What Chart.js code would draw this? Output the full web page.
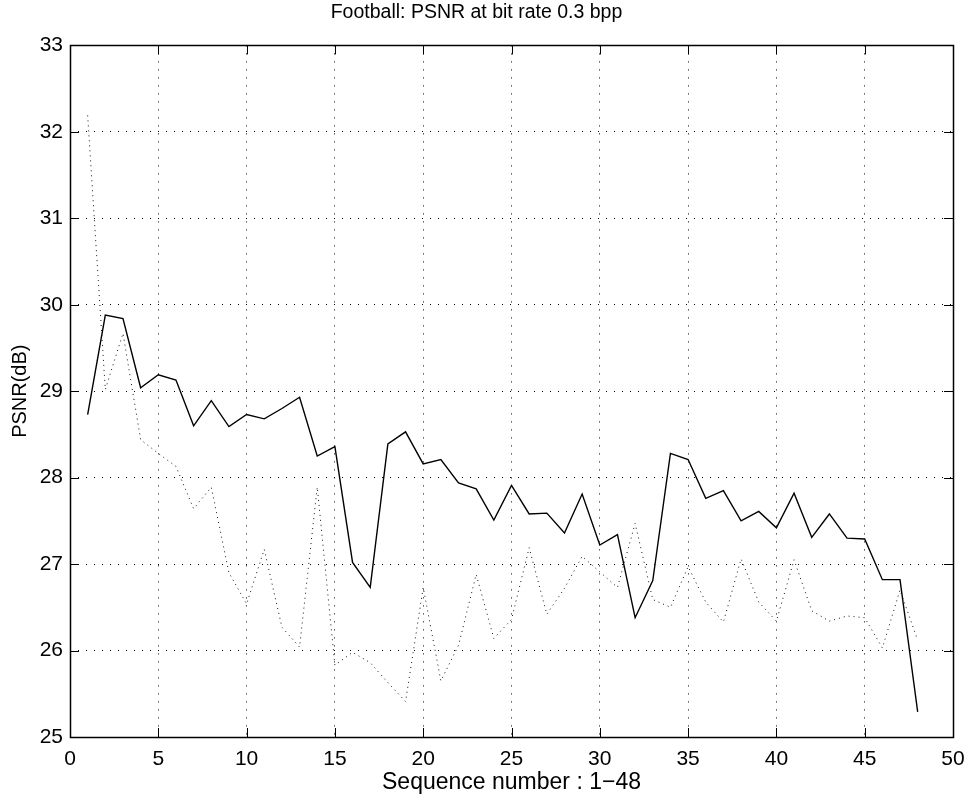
<!DOCTYPE html>
<html>
<head>
<meta charset="utf-8">
<script src="https://cdn.jsdelivr.net/npm/chart.js@4/dist/chart.umd.min.js"></script>
<style>
  html, body { margin: 0; padding: 0; background: #fff; }
  #wrap { width: 964px; height: 800px; }
</style>
</head>
<body>
<div id="wrap"><canvas id="psnr" width="964" height="800"></canvas></div>
<script>
// ── Data ───────────────────────────────────────────────────────
const seqNumbers = [1,2,3,4,5,6,7,8,9,10,11,12,13,14,15,16,17,18,19,20,21,22,23,24,
                    25,26,27,28,29,30,31,32,33,34,35,36,37,38,39,40,41,42,43,44,45,46,47,48];

const psnrSolid = [28.73, 29.88, 29.84, 29.04, 29.19, 29.13, 28.60, 28.89, 28.59, 28.73,
                   28.68, 28.80, 28.93, 28.25, 28.36, 27.02, 26.73, 28.39, 28.53, 28.16,
                   28.21, 27.94, 27.87, 27.51, 27.91, 27.58, 27.59, 27.36, 27.81, 27.22,
                   27.34, 26.38, 26.81, 28.28, 28.21, 27.76, 27.85, 27.50, 27.61, 27.42,
                   27.82, 27.31, 27.58, 27.30, 27.29, 26.82, 26.82, 25.29];

const psnrDotted = [32.19, 29.02, 29.67, 28.44, 28.28, 28.13, 27.64, 27.89, 26.90, 26.54,
                    27.17, 26.27, 26.04, 27.89, 25.83, 25.98, 25.86, 25.63, 25.41, 26.73,
                    25.65, 26.06, 26.88, 26.14, 26.36, 27.19, 26.42, 26.72, 27.09, 26.91,
                    26.73, 27.47, 26.59, 26.50, 26.97, 26.56, 26.33, 27.06, 26.56, 26.34,
                    27.05, 26.46, 26.34, 26.40, 26.38, 26.03, 26.70, 26.12];

const xTicks = [0, 5, 10, 15, 20, 25, 30, 35, 40, 45, 50];
const yTicks = [25, 26, 27, 28, 29, 30, 31, 32, 33];

const FONT = '"Liberation Sans", Arial, Helvetica, sans-serif';

// ── Box + inward ticks (MATLAB style) ──────────────────────────
const boxTicks = {
  id: 'boxTicks',
  afterDraw(chart) {
    const { ctx, chartArea: a, scales: { x, y } } = chart;
    const len = 9;
    ctx.save();
    ctx.strokeStyle = '#000';
    ctx.lineWidth = 1;
    ctx.beginPath();
    xTicks.forEach(v => {
      const px = Math.round(x.getPixelForValue(v)) + 0.5;
      ctx.moveTo(px, a.bottom); ctx.lineTo(px, a.bottom - len);
      ctx.moveTo(px, a.top);    ctx.lineTo(px, a.top + len);
    });
    yTicks.forEach(v => {
      const py = Math.round(y.getPixelForValue(v)) + 0.5;
      ctx.moveTo(a.left, py);  ctx.lineTo(a.left + len, py);
      ctx.moveTo(a.right, py); ctx.lineTo(a.right - len, py);
    });
    ctx.stroke();
    ctx.lineWidth = 1.5;
    ctx.strokeRect(Math.round(a.left) + 0.5, Math.round(a.top) + 0.5,
                   Math.round(a.right - a.left), Math.round(a.bottom - a.top));
    ctx.restore();
  }
};

new Chart(document.getElementById('psnr'), {
  type: 'line',
  data: {
    datasets: [
      {
        label: 'dotted',
        data: seqNumbers.map((n, i) => ({ x: n, y: psnrDotted[i] })),
        borderColor: '#111',
        borderWidth: 1,
        borderDash: [1, 4],
        pointRadius: 0,
        tension: 0,
      },
      {
        label: 'solid',
        data: seqNumbers.map((n, i) => ({ x: n, y: psnrSolid[i] })),
        borderColor: '#000',
        borderWidth: 1.4,
        pointRadius: 0,
        tension: 0,
      }
    ]
  },
  options: {
    responsive: false,
    animation: false,
    devicePixelRatio: 1,
    layout: { padding: { left: 0, right: 11, top: 0, bottom: 0 } },
    plugins: {
      legend: { display: false },
      tooltip: { enabled: false },
      title: {
        display: true,
        text: 'Football: PSNR at bit rate 0.3 bpp',
        color: '#000',
        font: { family: FONT, size: 19.5, weight: 'normal', lineHeight: 1.2 },
        padding: { top: 1, bottom: 21 },
      },
    },
    scales: {
      x: {
        type: 'linear',
        min: 0, max: 50,
        afterBuildTicks: s => { s.ticks = xTicks.map(v => ({ value: v })); },
        afterFit: s => { s.height = 63; s.paddingLeft = 0; s.paddingRight = 0; },
        grid: { color: '#000', lineWidth: 1, drawTicks: false },
        border: { display: false, dash: [1, 7] },
        ticks: { color: '#000', padding: 10, maxRotation: 0, font: { family: FONT, size: 21 } },
        title: {
          display: true,
          text: 'Sequence number : 1\u221248',
          color: '#000',
          font: { family: FONT, size: 23 },
          padding: { top: 0, bottom: 4 },
        },
      },
      y: {
        min: 25, max: 33,
        afterBuildTicks: s => { s.ticks = yTicks.map(v => ({ value: v })); },
        afterFit: s => { s.width = 70; s.paddingTop = 0; s.paddingBottom = 0; },
        grid: { color: '#000', lineWidth: 1, drawTicks: false },
        border: { display: false, dash: [1, 7] },
        ticks: { color: '#000', padding: 7, font: { family: FONT, size: 21 } },
        title: {
          display: true,
          text: 'PSNR(dB)',
          color: '#000',
          font: { family: FONT, size: 20 },
          padding: { top: 8, bottom: 0 },
        },
      },
    },
  },
  plugins: [boxTicks],
});
</script>
</body>
</html>
